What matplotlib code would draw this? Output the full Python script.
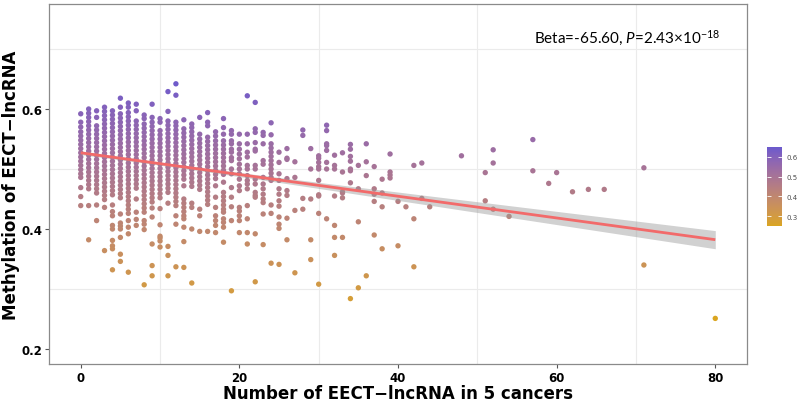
import numpy as np
import matplotlib
matplotlib.use("Agg")
import matplotlib.pyplot as plt
from matplotlib.colors import LinearSegmentedColormap, Normalize, to_rgb
from matplotlib.cm import ScalarMappable

# x position (number of EECT-lncRNA) of each column of points, and the methylation values in it
col_x = [0, 1, 2, 3, 4, 5, 6, 7, 8, 9, 10, 11, 12, 13, 14, 15, 16, 17, 18, 19, 20,
         21, 22, 23, 24, 25, 26, 27, 28, 29, 30, 31, 32, 33, 34, 35, 36, 37, 38, 39,
         40, 41, 42, 43, 44, 48, 51, 52, 54, 57, 59, 60, 62, 64, 66, 71, 80]
col_y = [
    [0.592, 0.578, 0.570, 0.562, 0.555, 0.548, 0.541, 0.534, 0.527, 0.520, 0.513, 0.506, 0.499, 0.492, 0.486, 0.469, 0.454, 0.439],
    [0.600, 0.593, 0.586, 0.579, 0.572, 0.565, 0.558, 0.551, 0.544, 0.537, 0.530, 0.523, 0.516, 0.509, 0.502, 0.495, 0.488, 0.481, 0.474, 0.467, 0.439, 0.382],
    [0.597, 0.586, 0.572, 0.565, 0.558, 0.551, 0.544, 0.537, 0.530, 0.523, 0.516, 0.509, 0.502, 0.495, 0.488, 0.481, 0.474, 0.467, 0.460, 0.440, 0.414],
    [0.603, 0.596, 0.589, 0.582, 0.575, 0.568, 0.561, 0.554, 0.547, 0.540, 0.533, 0.526, 0.519, 0.512, 0.505, 0.498, 0.491, 0.484, 0.477, 0.470, 0.463, 0.456, 0.449, 0.436, 0.364],
    [0.597, 0.590, 0.583, 0.576, 0.569, 0.562, 0.555, 0.548, 0.541, 0.534, 0.527, 0.520, 0.513, 0.506, 0.499, 0.492, 0.485, 0.478, 0.471, 0.464, 0.457, 0.440, 0.429, 0.422, 0.406, 0.400, 0.381, 0.372, 0.367, 0.332],
    [0.618, 0.603, 0.592, 0.585, 0.578, 0.571, 0.564, 0.557, 0.550, 0.543, 0.536, 0.529, 0.522, 0.515, 0.508, 0.501, 0.494, 0.487, 0.480, 0.473, 0.466, 0.459, 0.452, 0.425, 0.410, 0.405, 0.400, 0.386, 0.358, 0.346],
    [0.610, 0.603, 0.594, 0.587, 0.580, 0.573, 0.566, 0.559, 0.552, 0.545, 0.538, 0.531, 0.524, 0.517, 0.510, 0.503, 0.496, 0.489, 0.482, 0.475, 0.468, 0.461, 0.454, 0.447, 0.440, 0.433, 0.426, 0.414, 0.403, 0.392, 0.328],
    [0.608, 0.597, 0.580, 0.573, 0.566, 0.559, 0.552, 0.545, 0.538, 0.531, 0.524, 0.517, 0.510, 0.503, 0.496, 0.489, 0.482, 0.475, 0.468, 0.450, 0.428, 0.416, 0.406],
    [0.590, 0.584, 0.575, 0.568, 0.561, 0.554, 0.547, 0.540, 0.533, 0.526, 0.519, 0.512, 0.505, 0.498, 0.491, 0.484, 0.477, 0.470, 0.463, 0.456, 0.449, 0.442, 0.435, 0.428, 0.414, 0.408, 0.399, 0.307],
    [0.608, 0.586, 0.578, 0.571, 0.564, 0.557, 0.550, 0.543, 0.536, 0.529, 0.522, 0.515, 0.508, 0.501, 0.494, 0.487, 0.480, 0.473, 0.466, 0.459, 0.452, 0.445, 0.435, 0.420, 0.375, 0.339, 0.322],
    [0.584, 0.578, 0.564, 0.557, 0.550, 0.543, 0.536, 0.529, 0.522, 0.515, 0.508, 0.501, 0.494, 0.487, 0.480, 0.473, 0.466, 0.459, 0.452, 0.434, 0.407, 0.388, 0.385, 0.380, 0.370],
    [0.629, 0.596, 0.580, 0.573, 0.566, 0.559, 0.552, 0.545, 0.538, 0.531, 0.524, 0.517, 0.510, 0.503, 0.496, 0.489, 0.482, 0.475, 0.468, 0.461, 0.443, 0.371, 0.356, 0.322],
    [0.642, 0.623, 0.578, 0.572, 0.565, 0.558, 0.551, 0.544, 0.537, 0.530, 0.523, 0.516, 0.509, 0.502, 0.495, 0.488, 0.481, 0.474, 0.467, 0.460, 0.453, 0.446, 0.439, 0.422, 0.408, 0.337],
    [0.582, 0.567, 0.560, 0.553, 0.546, 0.539, 0.532, 0.525, 0.518, 0.511, 0.504, 0.497, 0.490, 0.483, 0.472, 0.450, 0.443, 0.436, 0.429, 0.422, 0.417, 0.403, 0.379, 0.336],
    [0.575, 0.569, 0.562, 0.555, 0.548, 0.541, 0.534, 0.527, 0.520, 0.513, 0.506, 0.499, 0.492, 0.485, 0.478, 0.471, 0.443, 0.436, 0.400, 0.310],
    [0.586, 0.558, 0.550, 0.543, 0.536, 0.529, 0.522, 0.515, 0.508, 0.501, 0.494, 0.487, 0.480, 0.473, 0.466, 0.433, 0.422, 0.396],
    [0.594, 0.578, 0.572, 0.553, 0.546, 0.539, 0.532, 0.525, 0.518, 0.511, 0.504, 0.497, 0.490, 0.483, 0.476, 0.469, 0.462, 0.455, 0.448, 0.441, 0.396],
    [0.562, 0.555, 0.547, 0.540, 0.533, 0.526, 0.519, 0.512, 0.505, 0.498, 0.491, 0.484, 0.472, 0.453, 0.436, 0.422, 0.414, 0.406, 0.394],
    [0.584, 0.569, 0.558, 0.547, 0.540, 0.533, 0.526, 0.519, 0.512, 0.505, 0.498, 0.491, 0.478, 0.461, 0.454, 0.447, 0.440, 0.433, 0.428, 0.417, 0.411, 0.403, 0.378],
    [0.564, 0.558, 0.547, 0.542, 0.533, 0.528, 0.519, 0.514, 0.500, 0.492, 0.469, 0.453, 0.437, 0.414, 0.297],
    [0.558, 0.542, 0.533, 0.525, 0.517, 0.508, 0.500, 0.492, 0.483, 0.472, 0.464, 0.436, 0.430, 0.422, 0.414, 0.394],
    [0.622, 0.558, 0.542, 0.528, 0.520, 0.506, 0.500, 0.489, 0.481, 0.475, 0.467, 0.439, 0.417, 0.394, 0.375],
    [0.611, 0.567, 0.561, 0.544, 0.533, 0.530, 0.506, 0.500, 0.483, 0.475, 0.461, 0.456, 0.453, 0.392, 0.312],
    [0.561, 0.556, 0.542, 0.514, 0.508, 0.486, 0.475, 0.467, 0.458, 0.450, 0.444, 0.425, 0.374],
    [0.577, 0.557, 0.542, 0.535, 0.528, 0.521, 0.514, 0.507, 0.500, 0.493, 0.486, 0.481, 0.440, 0.426, 0.343],
    [0.528, 0.511, 0.492, 0.481, 0.467, 0.458, 0.447, 0.438, 0.420, 0.408, 0.401, 0.341],
    [0.534, 0.518, 0.516, 0.484, 0.464, 0.456, 0.418, 0.382],
    [0.512, 0.486, 0.431, 0.327],
    [0.565, 0.556, 0.451, 0.433],
    [0.534, 0.500, 0.450, 0.382, 0.349],
    [0.522, 0.518, 0.511, 0.504, 0.500, 0.481, 0.457, 0.455, 0.426, 0.308],
    [0.573, 0.564, 0.542, 0.539, 0.531, 0.511, 0.500, 0.417],
    [0.523, 0.506, 0.500, 0.455, 0.406, 0.386, 0.356],
    [0.527, 0.495, 0.462, 0.460, 0.452, 0.386],
    [0.541, 0.533, 0.521, 0.513, 0.500, 0.497, 0.477, 0.284],
    [0.506, 0.467, 0.412, 0.302],
    [0.542, 0.512, 0.489, 0.322],
    [0.504, 0.467, 0.458, 0.446, 0.390],
    [0.483, 0.460, 0.437, 0.367],
    [0.525, 0.495, 0.490, 0.485],
    [0.446, 0.372],
    [0.437],
    [0.506, 0.417, 0.337],
    [0.510, 0.451],
    [0.437],
    [0.522],
    [0.494, 0.447],
    [0.532, 0.510, 0.433],
    [0.421],
    [0.549, 0.497],
    [0.476],
    [0.494],
    [0.462],
    [0.466],
    [0.466],
    [0.502, 0.340],
    [0.251],
]

# linear fit, with its confidence band
fit_intercept = 0.527
fit_slope = -0.00181
fit_x_range = [0, 80]
band_se0 = 0.0025
band_x_center = 9
band_se_slope = 0.00021

color_low = "#DAA520"   # goldenrod
color_high = "#6A5ACD"  # slateblue
color_lims = [0.25, 0.65]
cbar_ticks = [0.3, 0.4, 0.5, 0.6]

x_ticks = [0, 20, 40, 60, 80]
x_minor = [10, 30, 50, 70]
y_ticks = [0.2, 0.4, 0.6]
y_minor = [0.3, 0.5, 0.7]

_M = np.array([[0.4124, 0.3576, 0.1805],
               [0.2126, 0.7152, 0.0722],
               [0.0193, 0.1192, 0.9505]])
_WHITE = np.array([0.95047, 1.0, 1.08883])


def rgb_to_lab(rgb):
    c = np.asarray(rgb, float)
    lin = np.where(c <= 0.04045, c / 12.92, ((c + 0.055) / 1.055) ** 2.4)
    xyz = _M @ lin / _WHITE
    f = np.where(xyz > 0.008856, np.cbrt(xyz), 7.787 * xyz + 16 / 116)
    return np.array([116 * f[1] - 16, 500 * (f[0] - f[1]), 200 * (f[1] - f[2])])


def lab_to_rgb(lab):
    L, a, b = lab
    fy = (L + 16) / 116
    f = np.array([fy + a / 500, fy, fy - b / 200])
    xyz = np.where(f ** 3 > 0.008856, f ** 3, (f - 16 / 116) / 7.787) * _WHITE
    lin = np.clip(np.linalg.solve(_M, xyz), 0, 1)
    c = np.where(lin <= 0.0031308, 12.92 * lin, 1.055 * lin ** (1 / 2.4) - 0.055)
    return np.clip(c, 0, 1)


# ggplot-like gradient, interpolated in Lab space
lab_lo, lab_hi = rgb_to_lab(to_rgb(color_low)), rgb_to_lab(to_rgb(color_high))
stops = [lab_to_rgb(lab_lo + t * (lab_hi - lab_lo)) for t in np.linspace(0, 1, 64)]
cmap = LinearSegmentedColormap.from_list("gold_slate", stops)
norm = Normalize(vmin=color_lims[0], vmax=color_lims[1])

xs, ys = [], []
for x, col in zip(col_x, col_y):
    xs += [x] * len(col)
    ys += col
xs = np.array(xs)
ys = np.array(ys)

plt.rcParams['font.family'] = ['DejaVu Sans']
plt.rcParams['mathtext.fontset'] = 'custom'
plt.rcParams['mathtext.rm'] = 'Lato'
plt.rcParams['mathtext.it'] = 'Lato:italic'

fig = plt.figure(figsize=(8, 4.02), dpi=100)
ax = fig.add_axes([49 / 800, 37 / 402, 698 / 800, 360 / 402])

ax.scatter(xs, ys, c=ys, cmap=cmap, norm=norm, s=15, linewidths=0, zorder=2)

fx = np.linspace(fit_x_range[0], fit_x_range[1], 200)
fy = fit_intercept + fit_slope * fx
half = np.sqrt(band_se0 ** 2 + (band_se_slope * (fx - band_x_center)) ** 2)
ax.fill_between(fx, fy - half, fy + half, color='#999999', alpha=0.45, linewidth=0, zorder=3)
ax.plot(fx, fy, color='#F26A6A', lw=2.0, zorder=4, solid_capstyle='butt')

ax.text(57.1, 0.71, r'Beta=-65.60, $\mathit{P}$=2.43×10$^{-18}$', family='Lato',
        fontsize=11, ha='left', va='baseline', color='black')

ax.set_xlim(-4, 84)
ax.set_ylim(0.175, 0.775)
ax.set_xticks(x_ticks)
ax.set_yticks(y_ticks)
ax.set_xticks(x_minor, minor=True)
ax.set_yticks(y_minor, minor=True)
ax.set_yticklabels(['{:.1f}'.format(v) for v in y_ticks])
ax.grid(which='minor', color='#EBEBEB', lw=0.8, zorder=0)
ax.grid(which='major', visible=False)
ax.set_axisbelow(True)
ax.tick_params(which='minor', length=0)
ax.tick_params(which='major', length=3, width=0.8, color='#555555', pad=2,
               labelsize=8.5, labelcolor='black')
for lab in ax.get_xticklabels() + ax.get_yticklabels():
    lab.set_fontweight('bold')
for sp in ax.spines.values():
    sp.set_color('#8a8a8a')
    sp.set_linewidth(0.9)

ax.set_xlabel('Number of EECT\u2212lncRNA in 5 cancers', fontsize=12, fontweight='bold', labelpad=0)
ax.set_ylabel('Methylation of EECT\u2212lncRNA', fontsize=12, fontweight='bold', labelpad=1)

cax = fig.add_axes([767 / 800, 175 / 402, 15 / 800, 79 / 402])
cb = fig.colorbar(ScalarMappable(norm=norm, cmap=cmap), cax=cax, ticks=cbar_ticks)
cb.outline.set_visible(False)
cax.tick_params(left=True, right=True, direction='in', length=3, width=0.6,
                color='white', labelsize=5, labelcolor='#4d4d4d', pad=3)
cax.set_yticklabels(['{:.1f}'.format(v) for v in cbar_ticks])

fig.savefig('out.png', dpi=100)
